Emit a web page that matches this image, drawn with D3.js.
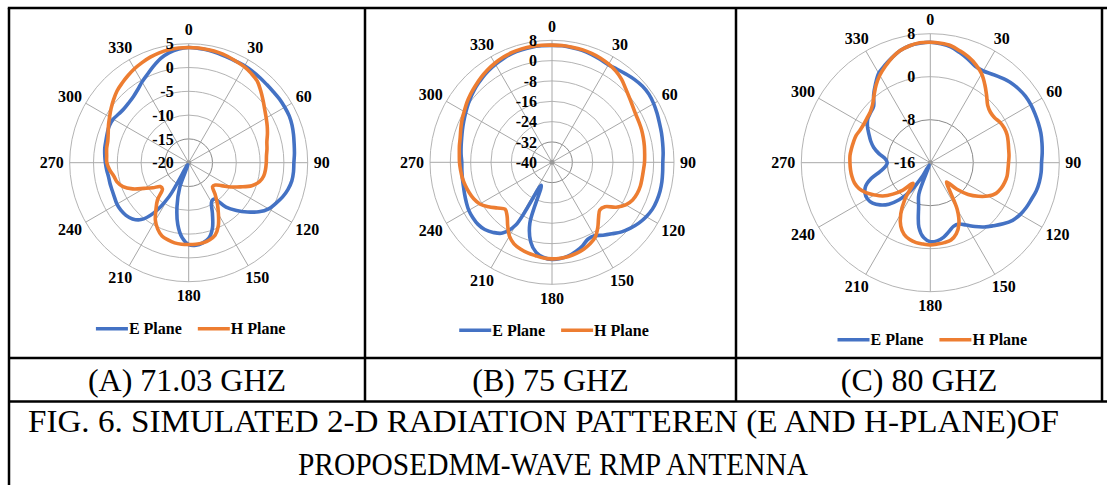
<!DOCTYPE html>
<html>
<head>
<meta charset="utf-8">
<script src="https://cdn.jsdelivr.net/npm/d3@7"></script>
<style>
  body { margin: 0; background: #fff; }
  text { font-family: "Liberation Serif", "Times New Roman", serif; }
</style>
</head>
<body>
<div class="figure"></div>
<script>
// angles in degrees, one sample every 5 degrees
const angles = d3.range(0, 360, 5);
const spokeAngles = d3.range(0, 360, 30);
const seriesNames = ["E Plane", "H Plane"];
const seriesColors = ["#4472C4", "#ED7D31"];

// (A) 71.03 GHz
const ticksA = [-20, -15, -10, -5, 0, 5];
const eA = [4.2, 4.1, 4.0, 3.8, 3.6, 3.5, 3.5, 3.4, 3.3, 3.2, 3.2, 3.3,
            3.3, 3.3, 3.1, 2.8, 2.5, 2.3, 2.1, 2.1, 2.0, 1.6, 1.0, 0.2,
            -0.6, -2.0, -3.9, -5.8, -7.8, -10.7, -10.4, -8.2, -5.4, -3.6, -2.9, -2.6,
            -2.8, -4.2, -6.8, -10.5, -14.5, -19.5, -11.8, -7.0, -4.4, -3.3, -2.8, -2.6,
            -2.6, -2.8, -2.9, -2.9, -2.9, -2.7, -2.5, -2.3, -2.1, -2.0, -1.8, -1.6,
            -1.7, -2.1, -2.3, -2.2, -1.9, -1.3, -0.4, 0.5, 1.6, 2.7, 3.5, 4.0];
const hA = [4.2, 4.2, 4.1, 4.0, 3.8, 3.5, 3.3, 2.9, 2.4, 1.4, 0.4, -0.5,
            -1.2, -1.8, -2.4, -3.0, -3.3, -3.6, -3.7, -3.8, -4.0, -4.6, -5.9, -8.0,
            -9.8, -11.6, -12.7, -12.9, -11.4, -9.5, -7.5, -5.3, -3.8, -3.2, -2.9, -2.8,
            -2.8, -2.8, -2.9, -3.2, -3.6, -4.6, -6.0, -8.0, -9.8, -12.2, -12.2, -10.8,
            -9.2, -7.0, -5.3, -4.4, -4.0, -3.3, -2.8, -2.7, -2.5, -2.4, -2.0, -1.4,
            -0.8, -0.1, 0.6, 1.3, 1.8, 2.3, 2.8, 3.2, 3.6, 3.9, 4.1, 4.2];

// (B) 75 GHz
const ticksB = [-40, -32, -24, -16, -8, 0, 8];
const eB = [6.0, 6.0, 5.8, 5.6, 5.2, 4.7, 4.3, 4.7, 5.3, 6.0, 6.5, 6.6,
            6.2, 5.6, 5.0, 4.6, 4.2, 3.9, 3.6, 3.7, 3.9, 4.0, 3.9, 3.6,
            2.8, 1.7, 0.3, -1.3, -3.3, -5.0, -6.6, -6.6, -5.0, -3.7, -2.6, -2.0,
            -1.8, -2.4, -4.0, -7.6, -14.5, -30.0, -11.5, -6.0, -4.0, -2.6, -2.0, -2.0,
            -2.2, -2.8, -3.4, -3.9, -4.2, -4.4, -4.5, -4.1, -3.7, -3.2, -2.5, -1.7,
            -0.8, 0.2, 1.2, 2.2, 3.0, 3.8, 4.5, 5.1, 5.6, 5.8, 6.0, 6.0];
const hB = [6.1, 6.1, 6.0, 5.9, 5.6, 5.2, 4.6, 3.8, 2.6, 1.0, -0.3, -1.3,
            -2.0, -2.3, -2.5, -2.8, -3.1, -3.4, -3.6, -3.9, -4.0, -4.0, -4.3, -5.0,
            -6.5, -9.2, -12.8, -13.4, -11.5, -8.6, -6.0, -4.6, -3.6, -2.9, -2.4, -2.1,
            -2.0, -2.2, -2.7, -3.1, -3.7, -4.6, -6.5, -9.6, -12.5, -13.9, -12.0, -9.5,
            -7.2, -6.0, -5.3, -4.7, -4.2, -3.9, -3.6, -3.4, -3.0, -2.6, -1.8, -0.9,
            -0.1, 0.9, 1.8, 2.6, 3.5, 4.3, 5.0, 5.6, 6.0, 6.2, 6.3, 6.2];

// (C) 80 GHz
const ticksC = [-16, -8, 0, 8];
const eC = [6.4, 6.2, 5.9, 5.2, 4.5, 3.8, 3.7, 4.1, 4.6, 5.1, 5.4, 5.6,
            5.6, 5.5, 5.4, 5.3, 5.1, 4.9, 4.7, 4.7, 4.6, 4.4, 4.0, 3.7,
            3.3, 2.7, 1.7, 0.6, -0.4, -1.5, -2.6, -3.4, -3.4, -2.7, -1.9, -1.4,
            -1.3, -2.0, -3.8, -7.6, -9.8, -15.5, -13.2, -9.5, -7.0, -5.1, -3.8, -2.9,
            -2.5, -2.6, -3.2, -4.6, -6.5, -7.6, -8.0, -7.6, -6.3, -5.1, -4.2, -3.4,
            -2.5, -1.8, -1.5, -1.1, 0.4, 1.8, 3.2, 4.0, 4.8, 5.6, 6.1, 6.3];
const hC = [6.4, 6.3, 6.1, 5.5, 4.9, 4.1, 3.1, 1.7, 0.3, -0.9, -1.4, -1.4,
            -1.0, -0.8, -0.8, -1.0, -1.2, -1.3, -1.45, -1.5, -1.5, -1.7, -2.0, -2.5,
            -3.6, -5.1, -6.8, -9.0, -11.3, -9.8, -6.0, -3.4, -1.9, -1.1, -0.9, -0.8,
            -0.7, -0.8, -0.9, -1.2, -1.8, -3.0, -5.0, -7.8, -11.0, -8.8, -6.9, -5.2,
            -4.0, -2.8, -1.9, -1.4, -1.2, -1.1, -1.05, -1.0, -1.1, -1.2, -1.3, -1.6,
            -1.7, -1.6, -1.4, -0.8, 0.3, 1.6, 2.8, 3.8, 4.8, 5.6, 6.1, 6.4];

const subCaptions = ["(A) 71.03 GHZ", "(B) 75 GHZ", "(C) 80 GHZ"];
const figCaption = ["FIG. 6. SIMULATED 2-D RADIATION PATTEREN (E AND H-PLANE)OF",
                    "PROPOSEDMM-WAVE RMP ANTENNA"];

const width = 1107, height = 485;
const translate = (x, y) => 'translate(' + x + ', ' + y + ')';
const rad = d => d * Math.PI / 180;

const svg = d3.select(".figure")
              .append("svg")
                  .attr("width", width)
                  .attr("height", height);

/* table frame */
const tLeft = 9, tRight = 1102, tTop = 8, row1 = 358, row2 = 401.5;
const colX = [365, 736];
const frame = svg.append("g").attr("stroke", "#000").attr("stroke-width", 2.5);
frame.append("line").attr("x1", tLeft - 1.2).attr("x2", width).attr("y1", tTop).attr("y2", tTop);
frame.append("line").attr("x1", tLeft).attr("x2", tLeft).attr("y1", tTop).attr("y2", height);
frame.append("line").attr("x1", tRight).attr("x2", tRight).attr("y1", tTop).attr("y2", row2);
frame.append("line").attr("x1", tLeft).attr("x2", tRight).attr("y1", row1).attr("y2", row1);
frame.append("line").attr("x1", tLeft).attr("x2", width).attr("y1", row2).attr("y2", row2);
colX.forEach(x => frame.append("line").attr("x1", x).attr("x2", x).attr("y1", tTop).attr("y2", row2));

const cells = [[tLeft, colX[0]], [colX[0], colX[1]], [colX[1], tRight]];

const panels = [
    { cx: 188.7, cy: 162.7, R: 119, ticks: ticksA, series: [eA, hA], legendDy: 166 },
    { cx: 552,   cy: 162.3, R: 122, ticks: ticksB, series: [eB, hB], legendDy: 168 },
    { cx: 930.3, cy: 162.7, R: 129, ticks: ticksC, series: [eC, hC], legendDy: 177 }
];

panels.forEach((p, i) => {
    const g = svg.append("g").attr("transform", translate(p.cx, p.cy));
    const r = d3.scaleLinear()
                .domain(d3.extent(p.ticks))
                .range([0, p.R])
                .clamp(true);

    // rings
    g.selectAll("circle.ring")
     .data(p.ticks.slice(1))
     .enter()
     .append("circle")
        .attr("class", "ring")
        .attr("r", d => r(d))
        .attr("fill", "none")
        .attr("stroke", (d, j) => j === 0 ? "#8a8a8a" : "#b4b4b4")
        .attr("stroke-width", 1);

    // spokes
    g.selectAll("line.spoke")
     .data(spokeAngles)
     .enter()
     .append("line")
        .attr("class", "spoke")
        .attr("x1", 0).attr("y1", 0)
        .attr("x2", d => p.R * Math.sin(rad(d)))
        .attr("y2", d => -p.R * Math.cos(rad(d)))
        .attr("stroke", "#a8a8a8")
        .attr("stroke-width", 1);

    g.append("circle").attr("r", 2.5).attr("fill", "#999");

    const line = d3.lineRadial()
                   .angle(d => rad(d[0]))
                   .radius(d => r(d[1]))
                   .curve(d3.curveCatmullRomClosed.alpha(0.5));

    p.series.forEach((vals, k) => {
        g.append("path")
         .datum(angles.map((a, j) => [a, vals[j]]))
         .attr("d", line)
         .attr("fill", "none")
         .attr("stroke", seriesColors[k])
         .attr("stroke-width", 3.6)
         .attr("stroke-linejoin", "round");
    });

    // value labels along the 0 degree spoke
    g.selectAll("text.tick")
     .data(p.ticks)
     .enter()
     .append("text")
        .attr("class", "tick")
        .attr("x", -15)
        .attr("y", d => -r(d))
        .attr("dy", "0.35em")
        .attr("text-anchor", "end")
        .attr("font-size", "16px")
        .attr("font-weight", "bold")
        .text(d => d);

    // angle labels
    g.selectAll("text.angle")
     .data(spokeAngles)
     .enter()
     .append("text")
        .attr("class", "angle")
        .attr("text-anchor", "middle")
        .attr("dy", "0.35em")
        .attr("font-size", "16px")
        .attr("font-weight", "bold")
        .text(d => d)
        .each(function(d) {
            const w = this.getComputedTextLength();
            const s = Math.sin(rad(d)), c = Math.cos(rad(d));
            d3.select(this)
              .attr("x", (p.R + 6 + w / 2) * s)
              .attr("y", -(p.R + 6 + 8) * c);
        });

    // legend
    const lg = g.append("g");
    let x = 0;
    seriesNames.forEach((name, k) => {
        const item = lg.append("g");
        item.append("line")
            .attr("x1", 0).attr("x2", 32)
            .attr("stroke", seriesColors[k])
            .attr("stroke-width", 3.6);
        const t = item.append("text")
            .attr("x", 33)
            .attr("dy", "0.35em")
            .attr("font-size", "16px")
            .attr("font-weight", "bold")
            .text(name);
        item.attr("transform", translate(x, 0));
        x += 33 + t.node().getComputedTextLength() + 16;
    });
    lg.attr("transform", translate(2 - (x - 16) / 2, p.legendDy));

    // sub caption
    const cell = cells[i];
    svg.append("text")
       .attr("x", (cell[0] + cell[1]) / 2)
       .attr("y", 391)
       .attr("text-anchor", "middle")
       .attr("font-size", "32px")
       .text(subCaptions[i]);
});

// figure caption, two lines fitted to the widths seen in the original
const capLines = [
    { text: figCaption[0], x: 28,  y: 432, len: 1031 },
    { text: figCaption[1], x: 298, y: 475, len: 510 }
];
svg.selectAll("text.caption")
   .data(capLines)
   .enter()
   .append("text")
      .attr("class", "caption")
      .attr("x", d => d.x)
      .attr("y", d => d.y)
      .attr("font-size", "30.5px")
      .attr("textLength", d => d.len)
      .attr("lengthAdjust", "spacingAndGlyphs")
      .text(d => d.text);
</script>
</body>
</html>
